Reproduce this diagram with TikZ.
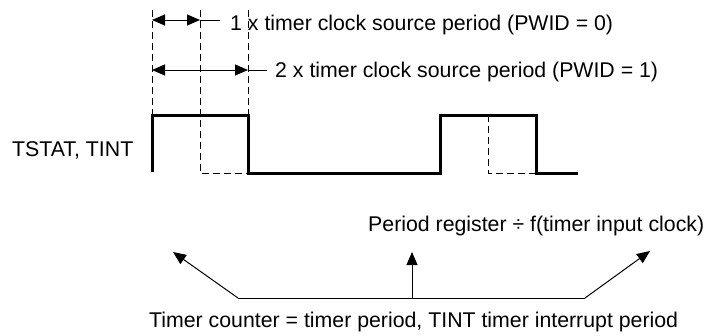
\documentclass[tikz,border=0pt]{standalone}
\usepackage{fontspec}
\setmainfont{Liberation Sans}
\usetikzlibrary{arrows.meta,positioning}
\tikzset{
  wave/.style={line width=3pt,line join=miter},
  guide/.style={line width=0.8pt,dash pattern=on 7pt off 4pt},
  thin/.style={line width=1pt},
  dim/.style={thin,{Triangle[length=13pt,width=11pt]}-{Triangle[length=13pt,width=11pt]}},
  pointer/.style={thin,-{Triangle[length=13pt,width=11pt]}},
  lbl/.style={font=\fontsize{21.3}{25}\selectfont,inner sep=0pt,anchor=base west}
}

\begin{document}
\begin{tikzpicture}[x=1pt,y=-1pt]
        \useasboundingbox (0,0) rectangle (706,335);
        % guides
        \draw[guide] (152,10) -- (152,115);
        \draw[guide] (200,10) -- (200,173) -- (248,173);
        \draw[guide] (248,10) -- (248,115);
        \draw[guide] (488,115) -- (488,173) -- (536,173);
        % pulse train
        \draw[wave] (152,172) -- (152,115) -- (248,115) -- (248,173) -- (440,173)
          -- (440,115) -- (536,115) -- (536,173) -- (578,173);
        % widths
        \coordinate (w1a) at (152,20);
        \coordinate (w1b) at (200,20);
        \coordinate (w1c) at (220,20);
        \coordinate (w2a) at (152,70);
        \coordinate (w2b) at (248,70);
        \coordinate (w2c) at (267,70);
        \draw[dim] (w1a) -- (w1b);
        \draw[thin] (w1b) -- (w1c);
        \draw[dim] (w2a) -- (w2b);
        \draw[thin] (w2b) -- (w2c);
        \node[lbl] (pwid0) at (230,30) {1 x timer clock source period (PWID = 0)};
        \node[lbl] (pwid1) at (275,77) {2 x timer clock source period (PWID = 1)};
        \node[lbl] (sig) at (12,156) {TSTAT, TINT};
        % period pointers
        \node[lbl] (preg) at (368,231) {Period register ÷ f(timer input clock)};
        \node[lbl] (tcnt) at (149,327) {Timer counter = timer period, TINT timer interrupt period};
        \coordinate (hubL) at (238,298);
        \coordinate (hubM) at (412,298);
        \coordinate (hubR) at (585,298);
        \coordinate (tipL) at (173,252);
        \coordinate (tipM) at (412,252);
        \coordinate (tipR) at (650,251);
        \draw[thin] (hubL) -- (hubR);
        \draw[pointer] (hubL) -- (tipL);
        \draw[pointer] (hubM) -- (tipM);
        \draw[pointer] (hubR) -- (tipR);
      \end{tikzpicture}
\end{document}
